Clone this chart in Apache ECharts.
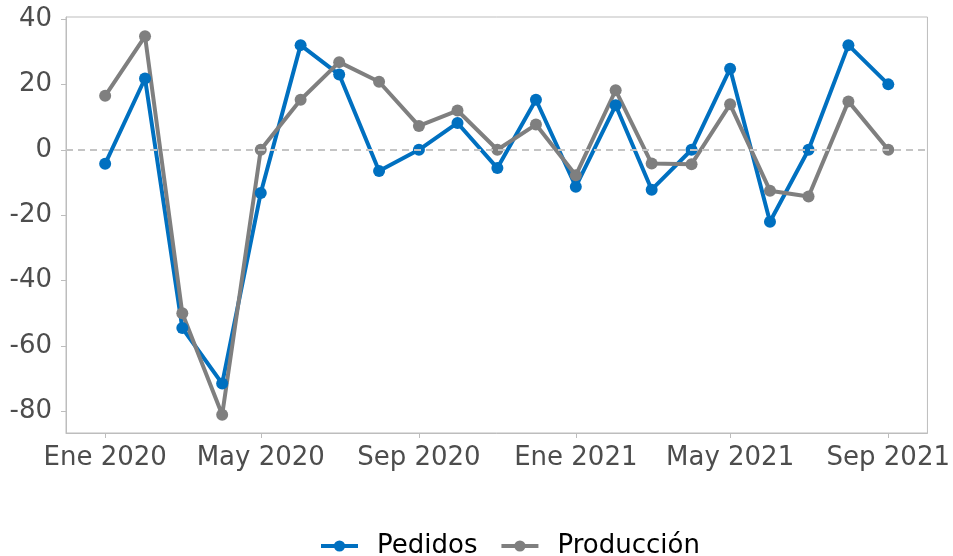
<!DOCTYPE html>
<html>
<head>
<meta charset="utf-8">
<script src="https://cdn.jsdelivr.net/npm/echarts@6/dist/echarts.min.js"></script>
<style>
  html, body { margin: 0; padding: 0; background: #fff; }
  #chart { width: 953px; height: 556px; }
</style>
</head>
<body>
<div id="chart"></div>
<script>
// monthly data, Jan 2020 .. Sep 2021
const months = [
  "2020-01", "2020-02", "2020-03", "2020-04", "2020-05", "2020-06", "2020-07",
  "2020-08", "2020-09", "2020-10", "2020-11", "2020-12", "2021-01", "2021-02",
  "2021-03", "2021-04", "2021-05", "2021-06", "2021-07", "2021-08", "2021-09"
];
const pedidos = [-4.3, 21.8, -54.5, -71.5, -13.2, 32, 23, -6.5, 0, 8.2, -5.6,
  15.3, -11.3, 13.6, -12.2, 0, 24.8, -22, 0, 32, 20];
const produccion = [16.5, 34.7, -50, -81, 0, 15.3, 26.8, 20.8, 7.3, 12, 0,
  7.7, -7.8, 18.2, -4.2, -4.4, 13.9, -12.5, -14.3, 14.8, 0];

const yTicks = [-80, -60, -40, -20, 0, 20, 40];
const xTickMonths = ["2020-01", "2020-05", "2020-09", "2021-01", "2021-05", "2021-09"];
const monthNames = ["Ene", "Feb", "Mar", "Abr", "May", "Jun", "Jul", "Ago", "Sep", "Oct", "Nov", "Dic"];

// x is measured in days since 2020-01-01 so month spacing follows the calendar
const DAY = 86400000;
const origin = Date.UTC(2020, 0, 1);
const toDay = (m) => {
  const [y, mo] = m.split("-").map(Number);
  return Math.round((Date.UTC(y, mo - 1, 1) - origin) / DAY);
};

const xStart = toDay(months[0]);
const xEnd = toDay(months[months.length - 1]);
const xPad = (xEnd - xStart) * 0.05;

const blue = "#0070C0";
const grey = "#7F7F7F";
const frame = "#BDBDBD";
const font = "DejaVu Sans";

const chart = echarts.init(document.getElementById("chart"));

const mkSeries = (name, values, color) => ({
  name: name,
  type: "line",
  data: months.map((m, i) => [toDay(m), values[i]]),
  symbol: "circle",
  symbolSize: 12,
  showSymbol: true,
  lineStyle: { color: color, width: 4 },
  itemStyle: { color: color },
  emphasis: { disabled: true },
  animation: false,
});

const prodSeries = mkSeries("Producción", produccion, grey);
prodSeries.markLine = {
  silent: true,
  symbol: "none",
  label: { show: false },
  lineStyle: { color: "#C4C4C4", width: 2, type: [7, 5] },
  data: [{ yAxis: 0 }],
  animation: false,
};

chart.setOption({
  animation: false,
  grid: {
    left: 66,
    right: 25,
    top: 17,
    bottom: 123,
    show: true,
    borderColor: frame,
    borderWidth: 1,
  },
  legend: {
    top: 528,
    left: 314,
    itemWidth: 37,
    itemHeight: 14,
    itemGap: 22,
    data: ["Pedidos", "Producción"],
    lineStyle: { width: 4 },
    textStyle: {
      color: "#000",
      fontSize: 26,
      fontFamily: font,
      padding: [0, 0, 0, 14],
    },
  },
  xAxis: {
    type: "value",
    min: xStart - xPad,
    max: xEnd + xPad,
    axisLine: { show: true, onZero: false, lineStyle: { color: frame, width: 1 } },
    axisTick: {
      show: true,
      length: 5,
      lineStyle: { color: frame },
      customValues: xTickMonths.map(toDay),
    },
    axisLabel: {
      color: "#4D4D4D",
      fontSize: 26,
      fontFamily: font,
      margin: 12,
      customValues: xTickMonths.map(toDay),
      formatter: (v) => {
        const d = new Date(origin + v * DAY + DAY / 2);
        return monthNames[d.getUTCMonth()] + " " + d.getUTCFullYear();
      },
    },
    splitLine: { show: false },
  },
  yAxis: {
    type: "value",
    min: -86.6,
    max: 40.6,
    axisLine: { show: true, onZero: false, lineStyle: { color: frame, width: 1 } },
    axisTick: {
      show: true,
      length: 5,
      lineStyle: { color: frame },
      customValues: yTicks,
    },
    axisLabel: {
      color: "#4D4D4D",
      fontSize: 26,
      fontFamily: font,
      margin: 14,
      customValues: yTicks,
    },
    splitLine: { show: false },
  },
  series: [mkSeries("Pedidos", pedidos, blue), prodSeries],
});
</script>
</body>
</html>
